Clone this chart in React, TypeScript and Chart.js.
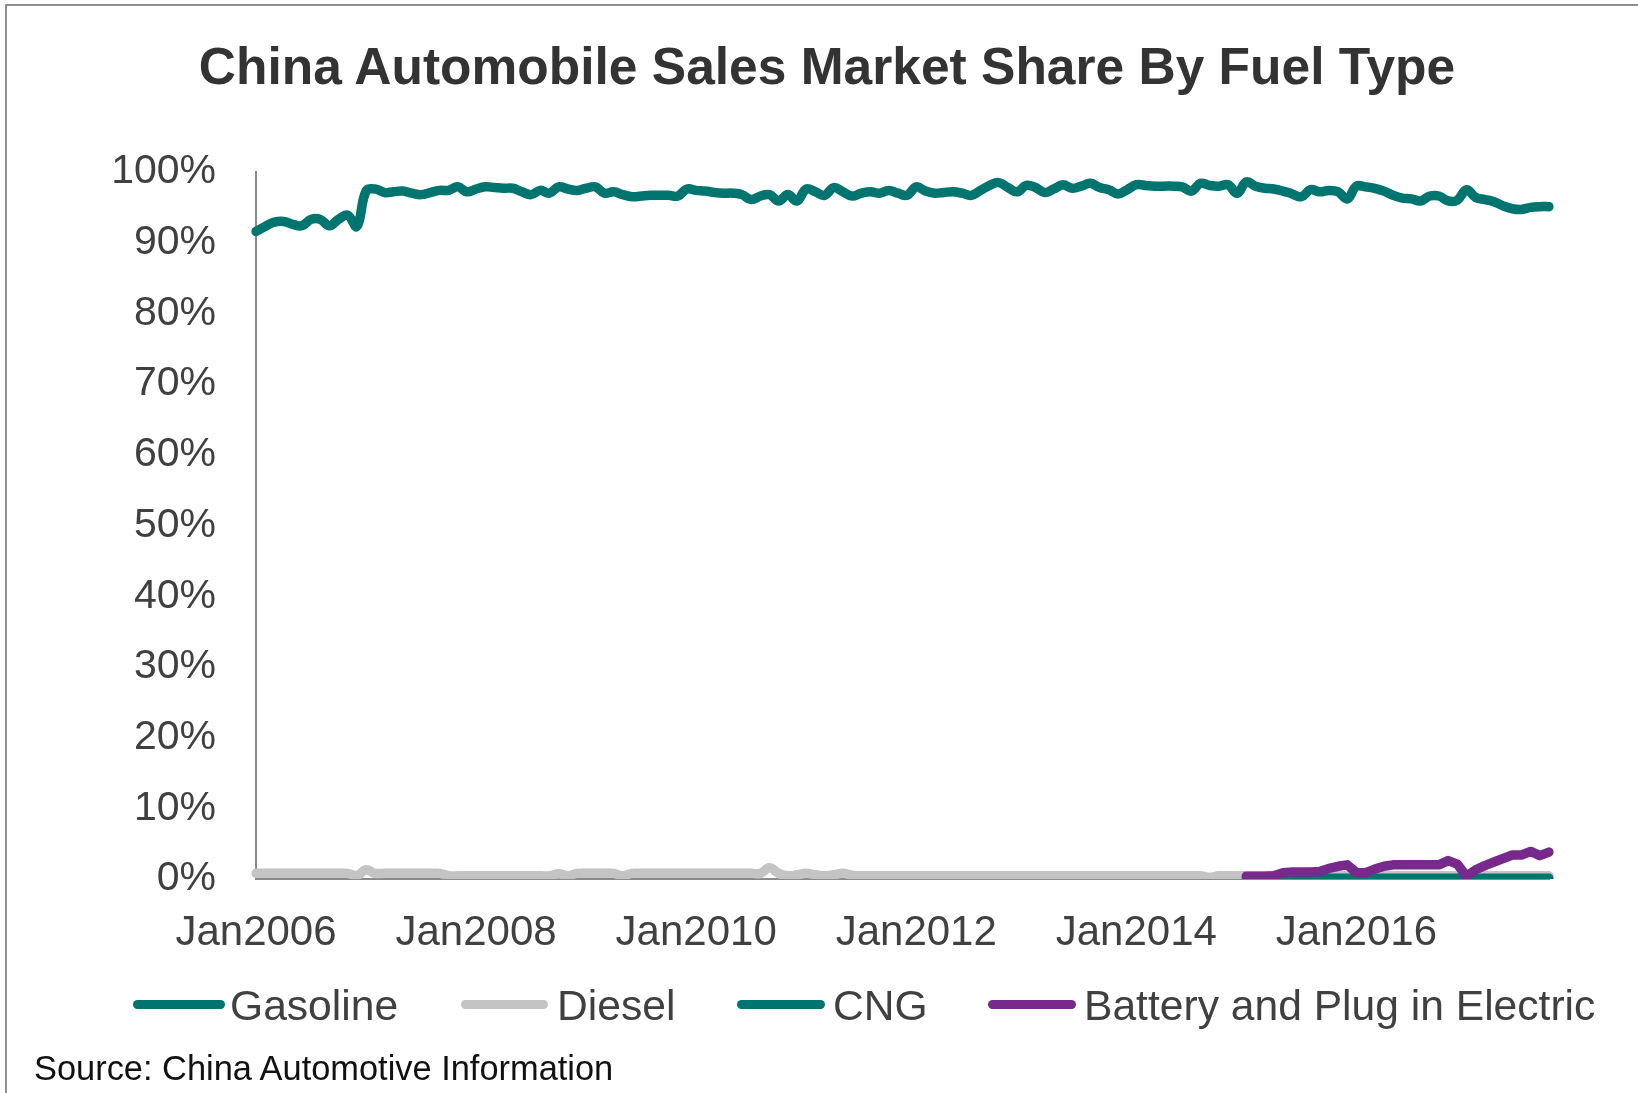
import { useEffect, useRef } from 'react';
import { Chart, registerables } from 'chart.js';

Chart.register(...registerables);

const FONT = '"Liberation Sans", Arial, sans-serif';

const years = [2006, 2007, 2008, 2009, 2010, 2011, 2012, 2013, 2014, 2015, 2016, 2017];
const monthNames = ['Jan', 'Feb', 'Mar', 'Apr', 'May', 'Jun', 'Jul', 'Aug', 'Sep', 'Oct', 'Nov', 'Dec'];
const monthCount = 142; // Jan2006 .. Oct2017
const categories: string[] = years
  .flatMap((y) => monthNames.map((m) => m + y))
  .slice(0, monthCount);

const tickLabels = ['Jan2006', 'Jan2008', 'Jan2010', 'Jan2012', 'Jan2014', 'Jan2016'];
const yTickStep = 10;

const seriesNames = ['Gasoline', 'Diesel', 'CNG', 'Battery and Plug in Electric'];
const seriesColors = ['#00756F', '#C4C4C4', '#00756F', '#772A8B'];

const gasoline = [
  91.6, 92.3, 92.9, 93.0, 92.6, 92.4, 93.3, 93.3, 92.4, 93.3, 93.9, 92.3,
  97.3, 97.6, 97.1, 97.2, 97.3, 97.0, 96.8, 97.1, 97.4, 97.4, 97.9, 97.2,
  97.6, 97.9, 97.8, 97.7, 97.7, 97.2, 96.8, 97.4, 97.0, 97.9, 97.6, 97.4,
  97.7, 97.9, 97.0, 97.2, 96.8, 96.5, 96.6, 96.7, 96.7, 96.7, 96.6, 97.6,
  97.4, 97.3, 97.1, 97.0, 97.0, 96.8, 96.1, 96.6, 96.8, 95.9, 96.8, 95.9,
  97.6, 97.2, 96.7, 97.8, 97.2, 96.6, 97.0, 97.2, 97.0, 97.4, 97.0, 96.7,
  97.9, 97.3, 97.0, 97.1, 97.2, 97.0, 96.7, 97.4, 98.1, 98.5, 97.8, 97.2,
  98.1, 97.8, 97.1, 97.6, 98.2, 97.7, 98.0, 98.4, 97.8, 97.5, 96.9, 97.5,
  98.2, 98.1, 98.0, 98.0, 98.0, 97.9, 97.3, 98.4, 98.1, 98.0, 98.2, 97.0,
  98.6, 98.0, 97.7, 97.6, 97.3, 96.9, 96.5, 97.5, 97.2, 97.4, 97.2, 96.2,
  98.0, 97.9, 97.7, 97.3, 96.7, 96.3, 96.2, 95.9, 96.6, 96.6, 95.9, 96.0,
  97.5, 96.4, 96.1, 95.8, 95.2, 94.8, 94.7, 95.0, 95.1, 95.1,
];

const diesel = [
  0.8, 0.8, 0.8, 0.8, 0.8, 0.8, 0.8, 0.8, 0.8, 0.8, 0.8, 0.5,
  1.3, 0.8, 0.8, 0.8, 0.8, 0.8, 0.8, 0.8, 0.8, 0.45, 0.45, 0.45,
  0.45, 0.45, 0.45, 0.45, 0.45, 0.45, 0.45, 0.45, 0.45, 0.75, 0.45, 0.8,
  0.8, 0.8, 0.8, 0.8, 0.45, 0.8, 0.8, 0.8, 0.8, 0.8, 0.8, 0.8,
  0.8, 0.8, 0.8, 0.8, 0.8, 0.8, 0.8, 0.8, 1.6, 0.8, 0.45, 0.6,
  0.8, 0.6, 0.45, 0.6, 0.8, 0.55, 0.45, 0.45, 0.45, 0.45, 0.45, 0.45,
  0.45, 0.45, 0.45, 0.45, 0.45, 0.45, 0.45, 0.45, 0.45, 0.45, 0.45, 0.45,
  0.45, 0.45, 0.45, 0.45, 0.45, 0.45, 0.45, 0.45, 0.45, 0.45, 0.45, 0.45,
  0.45, 0.45, 0.45, 0.45, 0.45, 0.45, 0.45, 0.45, 0.25, 0.45, 0.45, 0.45,
  0.45, 0.45, 0.45, 0.45, 0.45, 0.45, 0.45, 0.45, 0.45, 0.45, 0.45, 0.45,
  0.45, 0.45, 0.45, 0.45, 0.45, 0.45, 0.45, 0.45, 0.45, 0.45, 0.45, 0.45,
  0.45, 0.45, 0.45, 0.45, 0.45, 0.45, 0.45, 0.45, 0.45, 0.45,
];

// CNG and electric are reported from Jan2015 (month index 108)
const reportStart = 108;
const cng = [
  0.1, 0.1, 0.1, 0.1, 0.1, 0.1, 0.1, 0.1, 0.1, 0.1, 0.1, 0.1,
  0.1, 0.1, 0.1, 0.1, 0.1, 0.1, 0.1, 0.1, 0.1, 0.1, 0.1, 0.1,
  0.1, 0.1, 0.1, 0.1, 0.1, 0.1, 0.1, 0.1, 0.1, 0.1,
];
const electric = [
  0.4, 0.4, 0.4, 0.45, 0.9, 1.0, 1.0, 1.0, 1.05, 1.5, 1.8, 2.0,
  0.9, 0.9, 1.4, 1.8, 2.0, 2.0, 2.0, 2.0, 2.0, 2.0, 2.6, 2.1,
  0.4, 1.3, 1.9, 2.4, 2.9, 3.4, 3.4, 3.9, 3.3, 3.8,
];

const padFrom = (start: number, vals: number[]) =>
  [...new Array(start).fill(null), ...vals] as (number | null)[];

export default function App() {
  const ref = useRef<HTMLCanvasElement>(null);

  useEffect(() => {
    const canvas = ref.current;
    if (!canvas) return;
    const seriesData = [gasoline, diesel, padFrom(reportStart, cng), padFrom(reportStart, electric)];
    const tensions = [0.4, 0.4, 0, 0];
    const orders = [3, 2, 1, 0];
    const chart = new Chart(canvas, {
      type: 'line',
      data: {
        labels: categories,
        datasets: seriesNames.map((name, i) => ({
          label: name,
          data: seriesData[i],
          borderColor: seriesColors[i],
          backgroundColor: seriesColors[i],
          borderWidth: 9.5,
          pointRadius: 0,
          pointHoverRadius: 0,
          tension: tensions[i],
          cubicInterpolationMode: 'default',
          borderCapStyle: 'round',
          borderJoinStyle: 'round',
          spanGaps: false,
          fill: false,
          order: orders[i],
        })),
      },
      options: {
        responsive: false,
        devicePixelRatio: 1,
        animation: false,
        events: [],
        layout: { padding: { left: 0, top: 172, right: 89, bottom: 0 } },
        plugins: {
          legend: { display: false },
          title: { display: false },
          tooltip: { enabled: false },
        },
        scales: {
          x: {
            type: 'category',
            offset: false,
            grid: { display: false, drawTicks: false },
            border: { display: true, color: '#8A8A8A', width: 2 },
            ticks: {
              autoSkip: false,
              maxRotation: 0,
              minRotation: 0,
              padding: 29,
              color: '#404040',
              font: { family: FONT, size: 42 },
              callback: (_v: any, index: number) => {
                const lab = categories[index];
                return tickLabels.includes(lab) ? lab : null;
              },
            },
            afterFit: (scale: any) => {
              scale.height = 214;
            },
          },
          y: {
            min: 0,
            max: 100,
            grid: { display: false, drawTicks: false },
            border: { display: true, color: '#8A8A8A', width: 2 },
            ticks: {
              stepSize: yTickStep,
              padding: 40,
              color: '#404040',
              font: { family: FONT, size: 41 },
              callback: (v: any) => v + '%',
            },
            afterFit: (scale: any) => {
              scale.width = 256;
            },
          },
        },
      },
    } as any);
    return () => chart.destroy();
  }, []);

  const legendLines = [
    { x: 133, w: 92, tx: 230 },
    { x: 461, w: 87, tx: 557 },
    { x: 737, w: 88, tx: 833 },
    { x: 988, w: 88, tx: 1084 },
  ];

  return (
    <div
      style={{
        position: 'absolute',
        left: 0,
        top: 0,
        width: 1638,
        height: 1093,
        background: '#ffffff',
        overflow: 'hidden',
        fontFamily: FONT,
      }}
    >
      <div
        style={{
          position: 'absolute',
          left: 5,
          top: 4,
          width: 1700,
          height: 1200,
          borderLeft: '2px solid #8F8F8F',
          borderTop: '2px solid #8F8F8F',
        }}
      />
      <canvas
        ref={ref}
        width={1638}
        height={1093}
        style={{ position: 'absolute', left: 0, top: 0, width: 1638, height: 1093 }}
      />
      <div
        style={{
          position: 'absolute',
          left: 827,
          top: 41,
          transform: 'translateX(-50%)',
          whiteSpace: 'nowrap',
          fontSize: 51.5,
          lineHeight: 1,
          fontWeight: 'bold',
          color: '#333333',
        }}
      >
        China Automobile Sales Market Share By Fuel Type
      </div>
      {seriesNames.map((name, i) => (
        <div key={name}>
          <div
            style={{
              position: 'absolute',
              left: legendLines[i].x,
              top: 1000,
              width: legendLines[i].w,
              height: 9,
              borderRadius: 4.5,
              background: seriesColors[i],
            }}
          />
          <div
            style={{
              position: 'absolute',
              left: legendLines[i].tx,
              top: 984,
              whiteSpace: 'nowrap',
              fontSize: 42.6,
              lineHeight: 1,
              color: '#404040',
            }}
          >
            {name}
          </div>
        </div>
      ))}
      <div
        style={{
          position: 'absolute',
          left: 34,
          top: 1051,
          whiteSpace: 'nowrap',
          fontSize: 34.4,
          lineHeight: 1,
          color: '#111111',
        }}
      >
        Source: China Automotive Information
      </div>
    </div>
  );
}
